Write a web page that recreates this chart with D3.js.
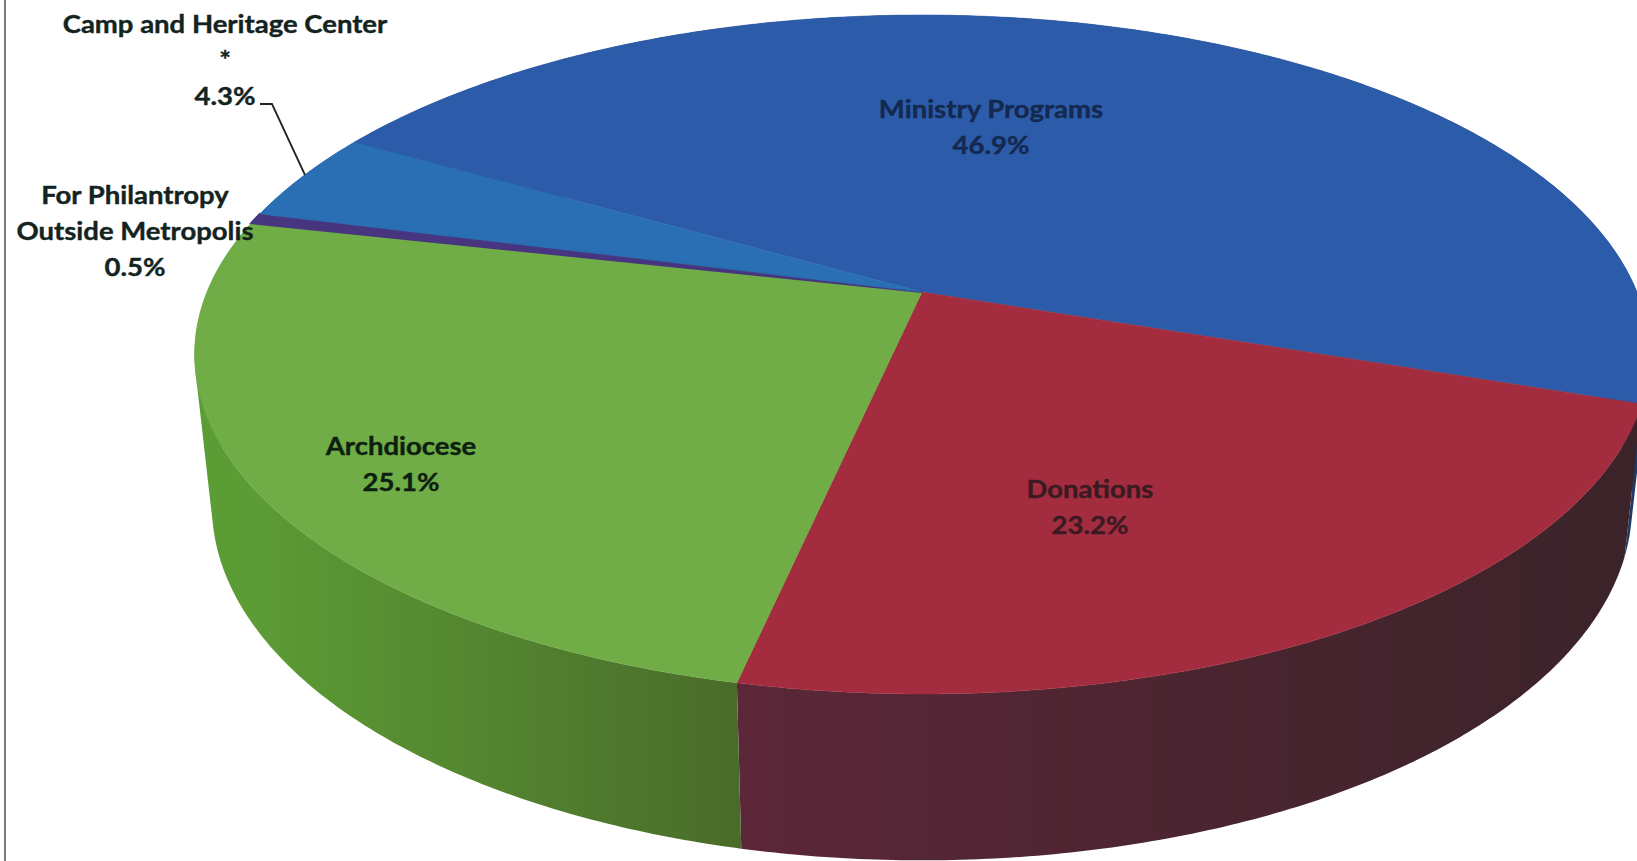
<!DOCTYPE html>
<html><head><meta charset="utf-8">
<script src="https://cdn.jsdelivr.net/npm/d3@7"></script>
<style>html,body{margin:0;padding:0;background:#fff;overflow:hidden}svg{display:block}</style>
</head><body>
<svg id="c" width="1637" height="861"></svg>
<script>
const categories = ["Ministry Programs","Donations","Archdiocese","For Philantropy Outside Metropolis","Camp and Heritage Center *"];
const shares = [46.9,23.2,25.1,0.5,4.3];
const shareLabels = ["46.9%","23.2%","25.1%","0.5%","4.3%"];
const topColors = ["#2c5ca9","#a32c3f","#70ad47","#47367f","#2a6fb3"];
const wallLeft = ["#1f3a66","#5c2738","#5c9c35","#47367f","#2a6fb3"];
const wallRight = ["#1f3a66","#3a2329","#4a6c2a","#47367f","#2a6fb3"];

const W = 1637, H = 861;
const cx = 922, K = 0.184;
const upper = {
  x:d3.scaleLinear().domain([-1,1]).range([cx-715,cx+715]),
  y:d3.scaleLinear().domain([-1,1]).range([292-328,292+328])
};
const lower = {
  x:d3.scaleLinear().domain([-1,1]).range([cx-698,cx+698]),
  y:d3.scaleLinear().domain([-1,1]).range([440-343,440+343])
};
function project(angle, r, ring){
  // pie angle is clockwise from 12 o'clock; the plane is tilted towards the viewer
  const X = r*Math.sin(angle), Y = -r*Math.cos(angle), d = 1-K*Y;
  return [ring.x(X/d),ring.y(Y/d)];
}
const pie = d3.pie().sort(null).value(d=>d.v)
  .startAngle(-60.1*Math.PI/180).endAngle(299.9*Math.PI/180);
const arcs = pie(categories.map((c,i)=>({c,v:shares[i],i})));
const line = d3.line();
const samples = a => {
  const n = Math.max(2,Math.ceil((a.endAngle-a.startAngle)/0.01));
  return d3.range(n+1).map(i=>a.startAngle+(a.endAngle-a.startAngle)*i/n);
};

const svg = d3.select("#c");
svg.append("rect").attr("width",W).attr("height",H).attr("fill","#fff");
svg.append("line").attr("x1",5).attr("x2",5).attr("y1",0).attr("y2",H)
  .attr("stroke","#7d7d7d").attr("stroke-width",2);

const defs = svg.append("defs");
arcs.forEach(a=>{
  const i = a.data.i;
  const ends = [project(a.startAngle,1,upper),project(a.endAngle,1,upper)].sort((p,q)=>p[0]-q[0]);
  const g = defs.append("linearGradient").attr("id","w"+i).attr("gradientUnits","userSpaceOnUse")
    .attr("x1",ends[0][0]).attr("x2",ends[1][0]).attr("y1",0).attr("y2",0);
  g.append("stop").attr("offset",0).attr("stop-color",wallLeft[i]);
  g.append("stop").attr("offset",1).attr("stop-color",wallRight[i]);
});

// Each wall is one path of swept quads with the same winding, so they merge with no seams.
function wallPath(a){
  return d3.pairs(samples(a)).map(([p,q])=>{
    const quad = [project(p,1,upper),project(q,1,upper),project(q,1,lower),project(p,1,lower)];
    if (d3.polygonArea(quad) < 0) quad.reverse();
    return line(quad)+"Z";
  }).join("");
}
svg.append("g").selectAll("path").data(arcs).join("path")
  .attr("d",wallPath)
  .attr("fill",a=>`url(#w${a.data.i})`);

svg.append("g").selectAll("path").data(arcs).join("path")
  .attr("d",a=>line([project(0,0,upper)].concat(samples(a).map(v=>project(v,1,upper))))+"Z")
  .attr("fill",a=>topColors[a.data.i])
  .attr("stroke",a=>topColors[a.data.i]).attr("stroke-width",a=>a.data.v<1?2:0.5);

svg.append("path").attr("d",line([[260,104],[272,104],[305,175]]))
  .attr("fill","none").attr("stroke","#1c2825").attr("stroke-width",1.8);

const labels = [
  {lines:[categories[0],shareLabels[0]],x:991,y:118,fill:"#14294f"},
  {lines:[categories[1],shareLabels[1]],x:1090,y:498,fill:"#3b1a22"},
  {lines:[categories[2],shareLabels[2]],x:401,y:455,fill:"#0d1f10"},
  {lines:["For Philantropy","Outside Metropolis",shareLabels[3]],x:135,y:204,fill:"#13241f"},
  {lines:["Camp and Heritage Center","*",shareLabels[4]],x:225,y:32.5,fill:"#13241f"}
];
const lab = svg.append("g").attr("font-family","Lato, 'Open Sans', sans-serif")
  .attr("font-weight",700).attr("font-size",25).attr("text-anchor","middle");
labels.forEach(l=>{
  l.lines.forEach((s,j)=>{
    lab.append("text").attr("transform",`translate(${l.x},${l.y+j*36}) scale(1.1,1)`)
      .attr("fill",l.fill).attr("stroke",l.fill).attr("stroke-width",0.4).text(s);
  });
});
</script>
</body></html>
